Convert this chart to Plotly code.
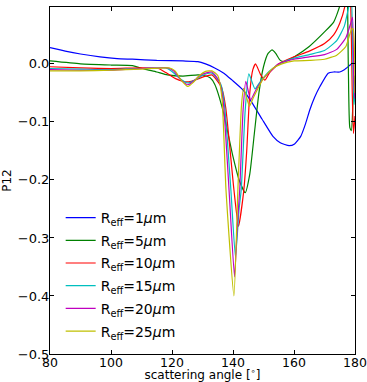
import plotly.graph_objects as go

# ---- data ----
x_r1 = [80, 85, 90, 96.4, 102, 107, 115, 123.6, 128.5, 131, 134, 137, 139.7, 143.3, 146, 149.5, 153.1,
        155.5, 158.4, 160.2, 162.2, 163.8, 165.2, 166.8, 168.5, 171.2, 173, 175, 176.5, 178.4, 180]
y_r1 = [0.028, 0.022, 0.017, 0.012, 0.009, 0.008, 0.006, 0.005, 0.004, 0.0, -0.007, -0.016, -0.028, -0.045,
        -0.065, -0.095, -0.125, -0.136, -0.141, -0.138, -0.125, -0.103, -0.079, -0.057, -0.039, -0.016,
        -0.014, -0.014, -0.010, -0.002, 0.004]

x_r5 = [80, 90, 100, 107, 111, 115, 118.5, 123.6, 128.5, 130.5, 132.5, 134, 136.7, 140, 142, 144,
        145.5, 147, 148.5, 150, 151.5, 152.8, 154, 155.5, 157, 160, 165, 170, 173, 175, 176.3, 177.2,
        177.8, 178.3, 178.8, 179.4, 180]
y_r5 = [0.005, 0.0, -0.002, -0.003, -0.009, -0.014, -0.019, -0.021, -0.019, -0.020, -0.024, -0.035,
        -0.08, -0.16, -0.20, -0.222, -0.19, -0.12, -0.05, -0.005, 0.018, 0.024, 0.018, 0.006, 0.004,
        0.012, 0.030, 0.055, 0.072, 0.100, 0.16, 0.15, 0.0, -0.11, -0.115, -0.06, -0.02]

x_r10 = [80, 90, 100, 110, 115.5, 118, 121, 123.5, 125.5, 128, 130.5, 133.1, 136.2, 137.6, 140.3, 141.8,
         143.5, 144.5, 145.5, 146.5, 147.4, 149, 150.5, 152, 155, 160, 165, 170, 173, 175, 176.7, 177.8,
         178.6, 179.1, 179.5, 180]
y_r10 = [-0.005, -0.007, -0.008, -0.007, -0.008, -0.015, -0.025, -0.030, -0.031, -0.027, -0.022, -0.019,
         -0.040, -0.075, -0.217, -0.28, -0.22, -0.15, -0.05, -0.01, 0.0, -0.018, -0.028, -0.015, 0.0,
         0.012, 0.022, 0.035, 0.050, 0.070, 0.100, 0.16, 0.10, -0.05, -0.12, -0.09]

x_r15 = [80, 90, 100, 110, 118, 120, 123, 125.2, 127.5, 130, 133.1, 136, 137.2, 139.3, 140.8, 142, 142.7,
         144, 145.2, 147.2, 149, 152, 156, 160, 165, 170, 174, 176.5, 178, 178.8, 179.3, 179.7, 180]
y_r15 = [-0.008, -0.009, -0.010, -0.008, -0.007, -0.013, -0.027, -0.033, -0.028, -0.020, -0.016, -0.035,
         -0.070, -0.217, -0.333, -0.25, -0.217, -0.08, -0.017, -0.043, -0.030, -0.012, 0.002, 0.010, 0.016,
         0.023, 0.040, 0.065, 0.100, 0.12, 0.0, -0.07, -0.05]

x_r20 = [80, 90, 100, 110, 118.5, 120.5, 123, 125.2, 127, 129.5, 133.1, 135.5, 136.8, 138.7, 140.5, 141.4,
         142.2, 143.3, 144.2, 145.8, 147.5, 150, 155, 160, 165, 170, 174, 177, 178.6, 179.2, 179.6, 180]
y_r20 = [-0.010, -0.011, -0.011, -0.008, -0.007, -0.012, -0.028, -0.036, -0.030, -0.019, -0.014, -0.030,
         -0.065, -0.217, -0.367, -0.28, -0.217, -0.08, -0.030, -0.062, -0.045, -0.025, 0.0, 0.008, 0.012,
         0.016, 0.025, 0.045, 0.070, 0.08, -0.03, -0.06]

x_r25 = [80, 90, 100, 110, 119, 121, 123, 125.2, 127, 129, 131, 133.1, 135, 136.4, 137.7, 140.3, 141.6,
         142.8, 143.5, 144.3, 145.4, 146.7, 150, 153, 156, 160, 165, 170, 174, 177, 178.9, 179.4, 180]
y_r25 = [-0.012, -0.012, -0.011, -0.009, -0.007, -0.012, -0.028, -0.039, -0.032, -0.020, -0.013, -0.012,
         -0.020, -0.060, -0.217, -0.400, -0.217, -0.070, -0.042, -0.055, -0.073, -0.058, -0.025, -0.008,
         0.0, 0.005, 0.006, 0.008, 0.015, 0.030, 0.060, 0.060, -0.05]

series = [
    ("R<sub>eff</sub>=1<i>μ</i>m", x_r1, y_r1, "#0000ff"),
    ("R<sub>eff</sub>=5<i>μ</i>m", x_r5, y_r5, "#008000"),
    ("R<sub>eff</sub>=10<i>μ</i>m", x_r10, y_r10, "#ff0000"),
    ("R<sub>eff</sub>=15<i>μ</i>m", x_r15, y_r15, "#00bfbf"),
    ("R<sub>eff</sub>=20<i>μ</i>m", x_r20, y_r20, "#bf00bf"),
    ("R<sub>eff</sub>=25<i>μ</i>m", x_r25, y_r25, "#bfbf00"),
]

x_ticks = [80, 100, 120, 140, 160, 180]
y_ticks = [-0.5, -0.4, -0.3, -0.2, -0.1, 0.0]

fig = go.Figure()
for i, (name, xs, ys, col) in enumerate(series):
    fig.add_trace(go.Scatter(x=xs, y=ys, mode="lines", name=name, legendgroup="g%d" % i,
                             line=dict(color=col, width=1.2, shape="spline", smoothing=0.5)))

font = "DejaVu Sans, Verdana, sans-serif"
fig.update_layout(
    width=367, height=382,
    margin=dict(l=50, r=12, t=7, b=28),
    paper_bgcolor="white", plot_bgcolor="white",
    font=dict(family=font, size=12, color="black"),
    showlegend=True,
    legend=dict(x=0.035, y=0.438, xanchor="left", yanchor="top",
                bgcolor="rgba(0,0,0,0)", font=dict(size=14),
                traceorder="grouped", tracegroupgap=1.5),
)
fig.update_xaxes(range=[80, 180], tickvals=x_ticks, ticktext=[str(v) for v in x_ticks],
                 ticks="inside", ticklen=4, tickcolor="black", mirror="ticks", automargin=False,
                 tickfont=dict(size=12.5), ticklabelstandoff=-3, ticklabeloverflow="allow",
                 showline=True, linecolor="black", linewidth=1, showgrid=False, zeroline=False,
                 title=dict(text="scattering angle [<sup>∘</sup>]", font=dict(size=12), standoff=3))
fig.update_yaxes(range=[-0.5, 0.098], tickvals=y_ticks, tickformat=".1f", automargin=False,
                 ticks="inside", ticklen=4, tickcolor="black", mirror="ticks",
                 tickfont=dict(size=13), ticklabelstandoff=-3,
                 showline=True, linecolor="black", linewidth=1, showgrid=False, zeroline=False,
                 title=dict(text="P12", font=dict(size=12), standoff=6))

fig.write_html("out.html", config={"displayModeBar": False},
               post_script="document.body.style.margin='0';document.body.style.overflow='hidden';")
